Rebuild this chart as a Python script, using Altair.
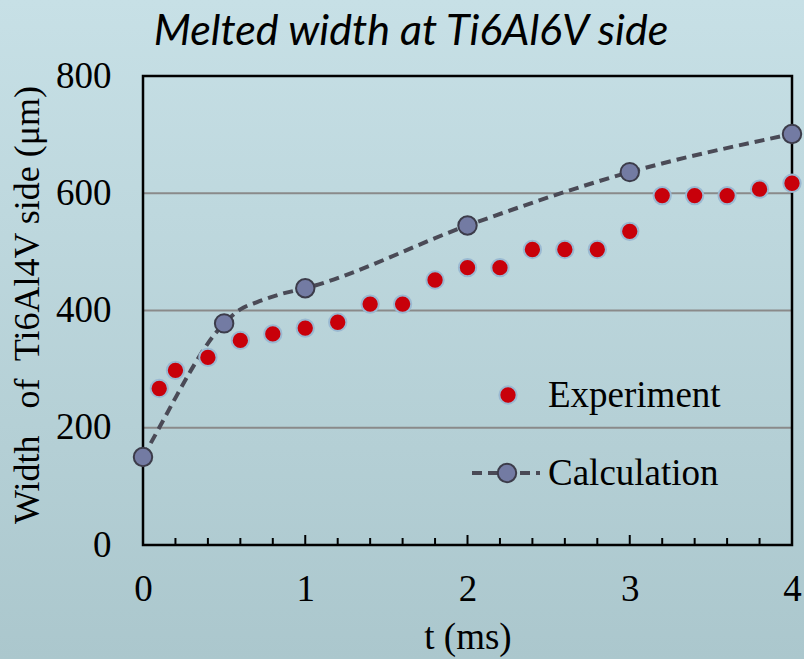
import altair as alt
import pandas as pd

# ---------------- data ----------------
exp_t = [0.1, 0.2, 0.4, 0.6, 0.8, 1.0, 1.2, 1.4, 1.6, 1.8, 2.0, 2.2, 2.4, 2.6, 2.8, 3.0, 3.2, 3.4, 3.6, 3.8, 4.0]
exp_w = [267, 298, 320, 349, 360, 370, 380, 411, 411, 452, 473, 473, 504, 504, 504, 535, 596, 596, 596, 607, 617]

calc_line_t = [0, 0.1, 0.2, 0.3, 0.4, 0.5, 0.6, 0.7, 0.85, 1.0, 2.0, 3.0, 4.0]
calc_line_w = [150, 200, 251, 300, 344, 378, 402, 414, 428, 438, 545, 636, 701]
calc_mark_t = [0, 0.5, 1, 2, 3, 4]
calc_mark_w = [150, 378, 438, 545, 636, 701]

y_ticks = [0, 200, 400, 600, 800]
y_grid = [200, 400, 600]
x_major = [0, 1, 2, 3, 4]
x_major_inner = [1, 2, 3]
x_minor = [0.2, 0.4, 0.6, 0.8, 1.2, 1.4, 1.6, 1.8, 2.2, 2.4, 2.6, 2.8, 3.2, 3.4, 3.6, 3.8]

title_text = "Melted width at Ti6Al6V side"
y_title = "Width\u00a0\u00a0 of\u00a0 Ti6Al4V side (\u03bcm)"
x_title = "t (ms)"
legend_labels = ["Experiment", "Calculation"]

W, H = 649, 469
SERIF = "Liberation Serif, Times New Roman, serif"

exp_df = pd.DataFrame({"t": exp_t, "w": exp_w})
line_df = pd.DataFrame({"t": calc_line_t, "w": calc_line_w})
mark_df = pd.DataFrame({"t": calc_mark_t, "w": calc_mark_w})
grid_df = pd.DataFrame({"w": y_grid})
minor_df = pd.DataFrame({"t": x_minor})
major_df = pd.DataFrame({"t": x_major_inner})
one = pd.DataFrame({"a": [0]})

xs = alt.Scale(domain=[0, 4], nice=False)
ys = alt.Scale(domain=[0, 800], nice=False)

x_axis = alt.Axis(values=x_major, format="d", labelFlush=False, labelFont=SERIF, labelFontSize=37,
                  labelColor="black", ticks=False, domain=False, grid=False, labelPadding=26,
                  title=x_title, titleFont=SERIF, titleFontSize=37, titleFontWeight="normal",
                  titleColor="black", titlePadding=12, zindex=1)
y_axis = alt.Axis(values=y_ticks, labelFont=SERIF, labelFontSize=37, labelColor="black",
                  ticks=False, domain=False, grid=False, labelPadding=32, labelFlush=False,
                  title=y_title, titleFont=SERIF,
                  titleFontSize=36, titleFontWeight="normal", titleColor="black",
                  titleX=-116, titleY=H / 2 - 6, titleAngle=270, titleAlign="center",
                  titleBaseline="middle", zindex=1)

bg = alt.Chart(one).mark_rect(
    fill=alt.Gradient(gradient="linear",
                      stops=[alt.GradientStop(color="#c7e0e6", offset=0),
                             alt.GradientStop(color="#abc7cd", offset=1)],
                      x1=0, x2=0, y1=0, y2=1)
).encode(x=alt.value(-143), x2=alt.value(W + 12), y=alt.value(-76), y2=alt.value(H + 114))

title = alt.Chart(one).mark_text(text=title_text, font="Lato", fontStyle="italic", fontSize=43,
                                 align="center", baseline="alphabetic", color="black").encode(
    x=alt.value(411 - 143), y=alt.value(45 - 76))

grid = alt.Chart(grid_df).mark_rule(color="#8a8a8a", strokeWidth=2).encode(
    y=alt.Y("w:Q", scale=ys))

frame = alt.Chart(one).mark_rect(fill=None, stroke="black", strokeWidth=2.5, fillOpacity=0).encode(
    x=alt.value(0), x2=alt.value(W), y=alt.value(0), y2=alt.value(H))

minor = alt.Chart(minor_df).mark_rule(color="black", strokeWidth=2).encode(
    x=alt.X("t:Q", scale=xs), y=alt.value(H), y2=alt.value(H - 7))
major = alt.Chart(major_df).mark_rule(color="black", strokeWidth=2).encode(
    x=alt.X("t:Q", scale=xs), y=alt.value(H), y2=alt.value(H - 10))

line = alt.Chart(line_df).mark_line(color="#4a4a56", strokeWidth=4, strokeDash=[10, 6],
                                    interpolate="monotone").encode(
    x=alt.X("t:Q", scale=xs, axis=x_axis),
    y=alt.Y("w:Q", scale=ys, axis=y_axis))

exp_pts = alt.Chart(exp_df).mark_point(shape="circle", filled=True, size=300, fill="#c8000a",
                                       stroke="#9ab9d2", strokeWidth=2, opacity=1).encode(
    x=alt.X("t:Q", scale=xs), y=alt.Y("w:Q", scale=ys))

calc_pts = alt.Chart(mark_df).mark_point(shape="circle", filled=True, size=340, fill="#737ba3",
                                         stroke="#3c3c4a", strokeWidth=2, opacity=1).encode(
    x=alt.X("t:Q", scale=xs), y=alt.Y("w:Q", scale=ys))

# legend
leg_exp_pt = alt.Chart(one).mark_point(shape="circle", filled=True, size=300, fill="#c8000a",
                                       stroke="#9ab9d2", strokeWidth=2, opacity=1).encode(
    x=alt.value(365), y=alt.value(319))
leg_exp_txt = alt.Chart(one).mark_text(text=legend_labels[0], align="left", baseline="middle",
                                       font=SERIF, fontSize=37, color="black").encode(
    x=alt.value(405), y=alt.value(320))
leg_calc_line = alt.Chart(one).mark_rule(color="#4a4a56", strokeWidth=4, strokeDash=[10, 6]).encode(
    x=alt.value(329), x2=alt.value(397), y=alt.value(397))
leg_calc_pt = alt.Chart(one).mark_point(shape="circle", filled=True, size=340, fill="#737ba3",
                                        stroke="#3c3c4a", strokeWidth=2, opacity=1).encode(
    x=alt.value(364), y=alt.value(397))
leg_calc_txt = alt.Chart(one).mark_text(text=legend_labels[1], align="left", baseline="middle",
                                        font=SERIF, fontSize=37, color="black").encode(
    x=alt.value(405), y=alt.value(398))

chart = alt.layer(
    bg, title, grid, frame, minor, major, line, exp_pts, calc_pts,
    leg_exp_pt, leg_exp_txt, leg_calc_line, leg_calc_pt, leg_calc_txt
).properties(
    width=W, height=H,
    autosize=alt.AutoSizeParams(type="none"),
    padding={"left": 143, "top": 76, "right": 12, "bottom": 114},
).configure_view(stroke=None).configure(background="#bad4da")

chart.save("out.html", embed_options={"renderer": "svg", "actions": False})
